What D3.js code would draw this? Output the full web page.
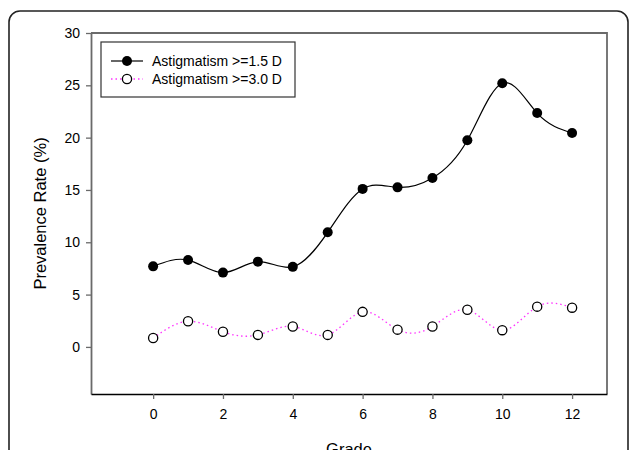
<!DOCTYPE html>
<html>
<head>
<meta charset="utf-8">
<script src="https://cdn.jsdelivr.net/npm/d3@7"></script>
<style>
    body { margin: 0; background: #fff; }
    text { font-family: "Liberation Sans", Arial, sans-serif; fill: #000; }
</style>
</head>
<body>
<div id="chart"></div>
<script>
var grades = [0, 1, 2, 3, 4, 5, 6, 7, 8, 9, 10, 11, 12];
var astig15 = [7.7, 8.3, 7.1, 8.15, 7.65, 10.95, 15.1, 15.25, 16.15, 19.75, 25.2, 22.35, 20.45];
var astig30 = [0.85, 2.45, 1.45, 1.15, 1.95, 1.15, 3.35, 1.65, 1.95, 3.55, 1.6, 3.85, 3.75];
var seriesNames = ["Astigmatism >=1.5 D", "Astigmatism >=3.0 D"];
var xTicks = [0, 2, 4, 6, 8, 10, 12];
var yTicks = [0, 5, 10, 15, 20, 25, 30];

var width = 629, height = 450;
var plot = { left: 91, top: 33, right: 607, bottom: 394 };

var svg = d3.select("#chart").append("svg")
    .attr("width", width)
    .attr("height", height);

// outer rounded frame (runs off the bottom)
svg.append("rect")
    .attr("x", 9).attr("y", 11)
    .attr("width", 619).attr("height", 480)
    .attr("rx", 11).attr("ry", 11)
    .attr("fill", "none")
    .attr("stroke", "#222")
    .attr("stroke-width", 1.6);

var x = d3.scaleLinear().domain([-1.78, 13]).range([plot.left, plot.right]);
var y = d3.scaleLinear().domain([-4.5, 30]).range([plot.bottom, plot.top]);

// frame top / right
svg.append("path")
    .attr("d", "M" + plot.left + "," + plot.top + "H" + plot.right + "V" + plot.bottom)
    .attr("fill", "none")
    .attr("stroke", "#6a6a6a")
    .attr("stroke-width", 1.8);

// y axis
var yAxis = svg.append("g")
    .attr("transform", "translate(" + plot.left + ",0)")
    .call(d3.axisLeft(y).tickValues(yTicks).tickSize(5).tickPadding(6).tickSizeOuter(0));
yAxis.select(".domain").attr("stroke", "#6a6a6a").attr("stroke-width", 1.8);
yAxis.selectAll(".tick line").attr("stroke", "#6a6a6a").attr("stroke-width", 1.3);
yAxis.selectAll(".tick text")
    .attr("font-size", 14)
    .attr("font-family", "Liberation Sans, Arial, sans-serif")
    .attr("fill", "#000");

// x axis
var xAxis = svg.append("g")
    .attr("transform", "translate(0," + plot.bottom + ")")
    .call(d3.axisBottom(x).tickValues(xTicks).tickSize(5).tickPadding(10).tickSizeOuter(0));
xAxis.select(".domain").attr("stroke", "#000").attr("stroke-width", 1.6);
xAxis.selectAll(".tick line").attr("stroke", "#6a6a6a").attr("stroke-width", 1.3);
xAxis.selectAll(".tick text")
    .attr("font-size", 14)
    .attr("font-family", "Liberation Sans, Arial, sans-serif")
    .attr("fill", "#000");

// axis titles
svg.append("text")
    .attr("transform", "translate(46," + ((plot.top + plot.bottom) / 2) + ") rotate(-90)")
    .attr("text-anchor", "middle")
    .attr("font-size", 16.5)
    .text("Prevalence Rate (%)");

svg.append("text")
    .attr("x", (plot.left + plot.right) / 2)
    .attr("y", 455)
    .attr("text-anchor", "middle")
    .attr("font-size", 16.5)
    .text("Grade");

//Lines
var line = d3.line()
    .x(function (d, i) { return x(grades[i]); })
    .y(function (d) { return y(d); })
    .curve(d3.curveNatural);

svg.append("path")
    .datum(astig15)
    .attr("d", line)
    .attr("fill", "none")
    .attr("stroke", "#000")
    .attr("stroke-width", 1.2);

svg.append("path")
    .datum(astig30)
    .attr("d", line)
    .attr("fill", "none")
    .attr("stroke", "#ff33ff")
    .attr("stroke-width", 1.3)
    .attr("stroke-dasharray", "1.5,3");

//Markers
svg.append("g").selectAll("circle")
    .data(astig15)
    .enter().append("circle")
    .attr("cx", function (d, i) { return x(grades[i]); })
    .attr("cy", function (d) { return y(d); })
    .attr("r", 5)
    .attr("fill", "#000");

svg.append("g").selectAll("circle")
    .data(astig30)
    .enter().append("circle")
    .attr("cx", function (d, i) { return x(grades[i]); })
    .attr("cy", function (d) { return y(d); })
    .attr("r", 4.6)
    .attr("fill", "#fff")
    .attr("stroke", "#000")
    .attr("stroke-width", 1.3);

//Legend
var legend = svg.append("g");
legend.append("rect")
    .attr("x", 101).attr("y", 42)
    .attr("width", 194).attr("height", 55)
    .attr("fill", "#fff")
    .attr("stroke", "#333")
    .attr("stroke-width", 1.2);

var rowY = [61, 79];
legend.append("line")
    .attr("x1", 111).attr("x2", 143)
    .attr("y1", rowY[0]).attr("y2", rowY[0])
    .attr("stroke", "#000").attr("stroke-width", 1.2);
legend.append("circle")
    .attr("cx", 127).attr("cy", rowY[0]).attr("r", 5)
    .attr("fill", "#000");
legend.append("line")
    .attr("x1", 111).attr("x2", 143)
    .attr("y1", rowY[1]).attr("y2", rowY[1])
    .attr("stroke", "#ff33ff").attr("stroke-width", 1.3)
    .attr("stroke-dasharray", "1.5,3");
legend.append("circle")
    .attr("cx", 127).attr("cy", rowY[1]).attr("r", 4.6)
    .attr("fill", "#fff").attr("stroke", "#000").attr("stroke-width", 1.3);

legend.selectAll("text.lbl")
    .data(seriesNames)
    .enter().append("text")
    .attr("class", "lbl")
    .attr("x", 152)
    .attr("y", function (d, i) { return rowY[i] + 5; })
    .attr("font-size", 14)
    .text(function (d) { return d; });
</script>
</body>
</html>
